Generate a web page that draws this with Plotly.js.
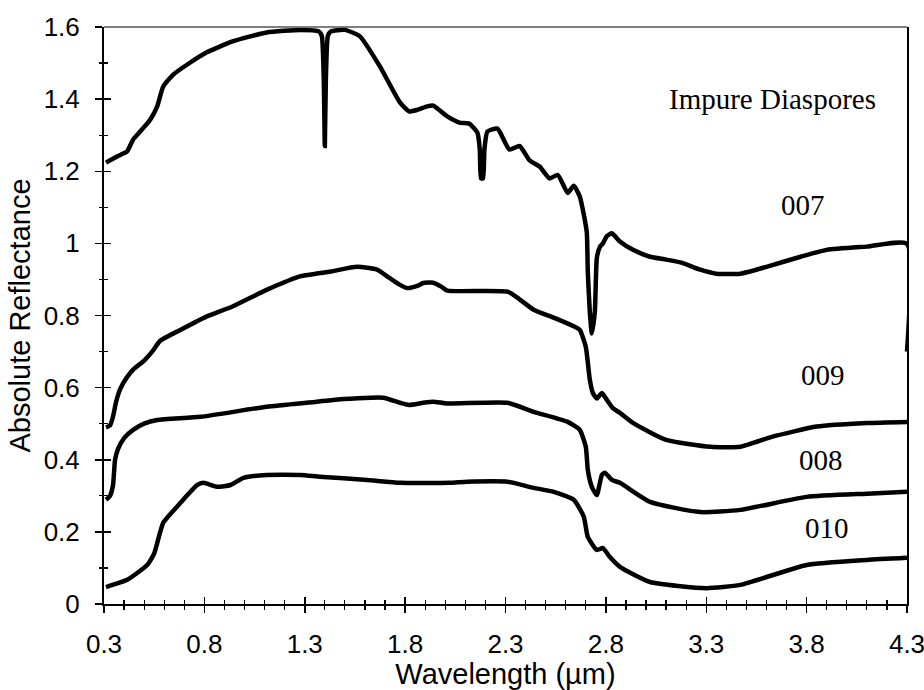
<!DOCTYPE html>
<html>
<head>
<meta charset="utf-8">
<script src="https://cdn.plot.ly/plotly-3.0.1.min.js"></script>
<style>html,body{margin:0;padding:0;background:#fff;}#chart{width:924px;height:690px;}</style>
</head>
<body>
<div id="chart"></div>
<script>
// Series 007
const x007 = [0.31,0.365,0.415,0.445,0.48,0.53,0.565,0.595,0.645,0.715,0.81,0.94,1.11,1.28,1.37,1.385,1.395,1.40,1.405,1.415,1.43,1.5,1.575,1.675,1.775,1.82,1.86,1.91,1.94,2.01,2.07,2.12,2.16,2.172,2.178,2.188,2.195,2.21,2.26,2.32,2.37,2.42,2.47,2.52,2.56,2.61,2.64,2.67,2.69,2.705,2.71,2.72,2.73,2.745,2.755,2.77,2.785,2.805,2.83,2.87,2.935,3.02,3.1,3.18,3.27,3.35,3.47,3.6,3.77,3.9,4.1,4.3,4.3];
const y007 = [1.224,1.241,1.255,1.288,1.31,1.343,1.38,1.435,1.468,1.496,1.529,1.56,1.585,1.592,1.588,1.575,1.45,1.27,1.45,1.575,1.588,1.592,1.574,1.49,1.39,1.366,1.37,1.38,1.382,1.352,1.335,1.332,1.307,1.26,1.18,1.18,1.26,1.31,1.318,1.26,1.27,1.23,1.213,1.18,1.19,1.14,1.16,1.13,1.08,1.03,0.92,0.81,0.75,0.81,0.96,0.99,1.0,1.02,1.028,1.005,0.982,0.963,0.955,0.946,0.927,0.916,0.916,0.935,0.963,0.982,0.991,0.999,0.70];
// Series 009
const x009 = [0.31,0.33,0.345,0.36,0.38,0.41,0.445,0.5,0.54,0.58,0.68,0.81,0.94,1.11,1.28,1.43,1.56,1.66,1.72,1.775,1.81,1.86,1.89,1.94,1.98,2.01,2.31,2.37,2.44,2.54,2.64,2.67,2.70,2.72,2.735,2.755,2.78,2.805,2.835,2.87,2.935,3.1,3.32,3.47,3.63,3.85,4.1,4.3];
const y009 = [0.49,0.495,0.52,0.56,0.595,0.625,0.65,0.675,0.70,0.73,0.76,0.797,0.825,0.871,0.909,0.922,0.935,0.927,0.905,0.885,0.876,0.882,0.89,0.891,0.88,0.869,0.866,0.845,0.816,0.794,0.77,0.76,0.713,0.622,0.585,0.57,0.585,0.566,0.543,0.53,0.502,0.455,0.436,0.436,0.464,0.492,0.502,0.505];
// Series 008
const x008 = [0.31,0.33,0.345,0.355,0.37,0.40,0.445,0.5,0.565,0.78,1.11,1.36,1.44,1.69,1.775,1.82,1.89,1.94,2.01,2.31,2.44,2.61,2.67,2.70,2.71,2.73,2.755,2.78,2.795,2.83,2.87,3.02,3.27,3.47,3.8,4.1,4.3];
const y008 = [0.289,0.30,0.33,0.40,0.43,0.46,0.483,0.50,0.51,0.519,0.547,0.561,0.566,0.572,0.558,0.552,0.558,0.561,0.556,0.558,0.533,0.505,0.483,0.436,0.372,0.325,0.302,0.358,0.364,0.344,0.336,0.283,0.255,0.261,0.297,0.306,0.311];
// Series 010
const x010 = [0.31,0.415,0.515,0.55,0.565,0.595,0.68,0.765,0.795,0.865,0.93,0.995,1.11,1.28,1.375,1.61,1.775,2.02,2.11,2.31,2.44,2.54,2.64,2.69,2.71,2.755,2.785,2.82,2.87,3.02,3.3,3.47,3.8,4.1,4.3];
const y010 = [0.047,0.067,0.108,0.14,0.169,0.225,0.28,0.33,0.336,0.325,0.33,0.35,0.358,0.358,0.353,0.344,0.336,0.336,0.339,0.339,0.322,0.311,0.289,0.242,0.186,0.15,0.155,0.13,0.103,0.061,0.044,0.053,0.108,0.122,0.128];

const seriesNames = ["007","009","008","010"];
const labelX = [3.78,3.88,3.87,3.90];
const labelY = [1.107,0.636,0.40,0.21];
const chartLabel = "Impure Diaspores";
const xTitle = "Wavelength (µm)";
const yTitle = "Absolute Reflectance";
const xTickVals = [0.3,0.8,1.3,1.8,2.3,2.8,3.3,3.8,4.3];
const xTickText = ["0.3","0.8","1.3","1.8","2.3","2.8","3.3","3.8","4.3"];
const yTickVals = [0,0.2,0.4,0.6,0.8,1.0,1.2,1.4,1.6];
const yTickText = ["0","0.2","0.4","0.6","0.8","1","1.2","1.4","1.6"];

const lineStyle = {color:"#000", width:4.5, shape:"spline", smoothing:0.5};
const traces = [
  {x:x007, y:y007, name:seriesNames[0], mode:"lines", line:lineStyle},
  {x:x009, y:y009, name:seriesNames[1], mode:"lines", line:lineStyle},
  {x:x008, y:y008, name:seriesNames[2], mode:"lines", line:lineStyle},
  {x:x010, y:y010, name:seriesNames[3], mode:"lines", line:lineStyle},
  // invisible trace that activates the overlay axes used for the inner half of the crossing ticks
  {x:x010, y:y010, xaxis:"x2", yaxis:"y2", mode:"lines", line:{color:"rgba(0,0,0,0)", width:0}, hoverinfo:"skip", showlegend:false}
];

const serif = "Liberation Serif, Times New Roman, serif";
const sans = "Liberation Sans, Arial, sans-serif";

const annotations = seriesNames.map((n,i)=>({
  x:labelX[i], y:labelY[i], xref:"x", yref:"y", text:n, showarrow:false,
  font:{family:serif, size:29, color:"#000"}
}));
annotations.push({x:3.63, y:1.40, xref:"x", yref:"y", text:chartLabel, showarrow:false,
  font:{family:serif, size:29, color:"#000"}});

const layout = {
  width:924, height:690,
  margin:{l:104, r:17, t:27, b:86, pad:0},
  paper_bgcolor:"#fff", plot_bgcolor:"#fff",
  showlegend:false,
  xaxis:{
    range:[0.3,4.3], tickmode:"array", tickvals:xTickVals, ticktext:xTickText,
    ticks:"outside", ticklen:7, tickwidth:1.5, tickcolor:"#000",
    minor:{ticks:"outside", ticklen:4, dtick:0.1, tick0:0.3, tickwidth:1.2, tickcolor:"#000", showgrid:false},
    showline:true, linecolor:"#000", linewidth:2, mirror:false,
    showgrid:false, zeroline:false,
    tickfont:{family:sans, size:26, color:"#000"},
    ticklabelstandoff:9, ticklabeloverflow:"allow",
    title:{text:xTitle, font:{family:sans, size:29, color:"#000"}, standoff:3}
  },
  yaxis:{
    range:[0,1.6], tickmode:"array", tickvals:yTickVals, ticktext:yTickText,
    ticks:"outside", ticklen:7, tickwidth:1.5, tickcolor:"#000",
    minor:{ticks:"outside", ticklen:3, dtick:0.1, tick0:0, tickwidth:1.2, tickcolor:"#000", showgrid:false},
    showline:true, linecolor:"#000", linewidth:2, mirror:true,
    showgrid:false, zeroline:false,
    tickfont:{family:sans, size:26, color:"#000"},
    ticklabelstandoff:10,
    title:{text:yTitle, font:{family:sans, size:29, color:"#000"}, standoff:4}
  },
  xaxis2:{
    overlaying:"x", anchor:"y2", side:"bottom",
    range:[0.3,4.3], tickmode:"array", tickvals:xTickVals,
    ticks:"inside", ticklen:7, tickwidth:1.5, tickcolor:"#000",
    minor:{ticks:"inside", ticklen:4, dtick:0.1, tick0:0.3, tickwidth:1.2, tickcolor:"#000", showgrid:false},
    showticklabels:false, showline:false, showgrid:false, zeroline:false
  },
  yaxis2:{
    overlaying:"y", anchor:"x2", side:"left",
    range:[0,1.6], tickmode:"array", tickvals:yTickVals,
    ticks:"inside", ticklen:7, tickwidth:1.5, tickcolor:"#000",
    minor:{ticks:"inside", ticklen:4, dtick:0.1, tick0:0, tickwidth:1.2, tickcolor:"#000", showgrid:false},
    showticklabels:false, showline:false, showgrid:false, zeroline:false
  },
  shapes:[
    {type:"line", xref:"paper", yref:"paper", x0:0, x1:1, y0:1, y1:1, line:{color:"#555", width:1.5}, layer:"above"}
  ],
  annotations:annotations
};

Plotly.newPlot("chart", traces, layout, {displayModeBar:false, staticPlot:true});
</script>
</body>
</html>
